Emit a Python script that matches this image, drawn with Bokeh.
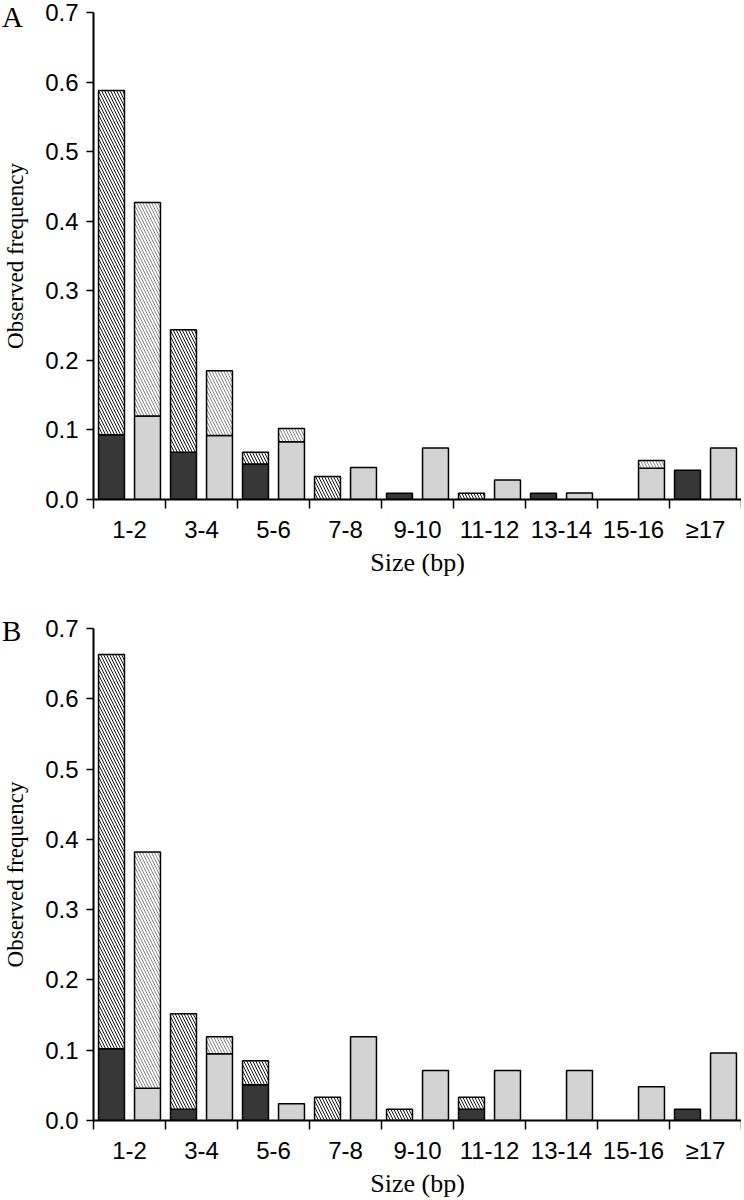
from bokeh.plotting import figure
from bokeh.layouts import column
from bokeh.models import Range1d, FixedTicker, PrintfTickFormatter, ColumnDataSource, Div
from bokeh.embed import file_html
from bokeh.resources import INLINE

categories = ["1-2", "3-4", "5-6", "7-8", "9-10", "11-12", "13-14", "15-16", "\u226517"]
y_ticks = [0.0, 0.1, 0.2, 0.3, 0.4, 0.5, 0.6, 0.7]

# Panel A: left bar = solid dark part + hatched part (top), right bar = light grey part + hatched part
A_dark = [0.093, 0.068, 0.051, 0.0, 0.009, 0.0, 0.009, 0.0, 0.042]
A_left_total = [0.588, 0.244, 0.068, 0.033, 0.009, 0.009, 0.009, 0.0, 0.042]
A_grey = [0.120, 0.092, 0.083, 0.046, 0.074, 0.028, 0.0095, 0.045, 0.074]
A_right_total = [0.427, 0.185, 0.102, 0.046, 0.074, 0.028, 0.0095, 0.056, 0.074]

# Panel B
B_dark = [0.102, 0.016, 0.051, 0.0, 0.0, 0.016, 0.0, 0.0, 0.016]
B_left_total = [0.663, 0.152, 0.085, 0.033, 0.016, 0.033, 0.0, 0.0, 0.016]
B_grey = [0.046, 0.095, 0.024, 0.119, 0.071, 0.071, 0.071, 0.048, 0.096]
B_right_total = [0.382, 0.119, 0.024, 0.119, 0.071, 0.071, 0.071, 0.048, 0.096]

DARK = "#373737"
GREY = "#d3d3d3"
SANS = "Liberation Sans"
SERIF = "Liberation Serif"
FRAME_W = 648
LEFT = 90


def panel(dark, left_total, grey, right_total, frame_h, top_border, bottom_border):
    n = len(categories)
    centers = list(range(1, n + 1))
    p = figure(frame_width=FRAME_W, frame_height=frame_h,
               x_range=Range1d(0.5, n + 0.5), y_range=Range1d(0, 0.7),
               output_backend="svg", toolbar_location=None,
               min_border_left=LEFT, min_border_right=0, min_border_top=top_border,
               min_border_bottom=bottom_border)
    p.outline_line_color = None
    p.xgrid.visible = False
    p.ygrid.visible = False
    p.background_fill_color = "white"

    lx = [c - 0.25 for c in centers]
    rx = [c + 0.25 for c in centers]
    w = 0.36

    # solid parts
    src_dark = ColumnDataSource(dict(x=[x for x, d in zip(lx, dark) if d > 0],
                                     top=[d for d in dark if d > 0]))
    p.vbar(x="x", top="top", bottom=0, width=w, source=src_dark,
           fill_color=DARK, line_color="black", line_width=1.5)
    src_grey = ColumnDataSource(dict(x=[x for x, g in zip(rx, grey) if g > 0],
                                     top=[g for g in grey if g > 0]))
    p.vbar(x="x", top="top", bottom=0, width=w, source=src_grey,
           fill_color=GREY, line_color="black", line_width=1.5)

    # hatched parts
    lh = [(x, b, t) for x, b, t in zip(lx, dark, left_total) if t > b]
    src_lh = ColumnDataSource(dict(x=[a[0] for a in lh], bottom=[a[1] for a in lh],
                                   top=[a[2] for a in lh]))
    p.vbar(x="x", top="top", bottom="bottom", width=w, source=src_lh,
           fill_color="white", line_color="black", line_width=1.5,
           hatch_pattern="left_diagonal_line", hatch_color="#111111",
           hatch_scale=6, hatch_weight=1.0)
    rh = [(x, b, t) for x, b, t in zip(rx, grey, right_total) if t > b]
    src_rh = ColumnDataSource(dict(x=[a[0] for a in rh], bottom=[a[1] for a in rh],
                                   top=[a[2] for a in rh]))
    p.vbar(x="x", top="top", bottom="bottom", width=w, source=src_rh,
           fill_color="white", line_color="black", line_width=1.5,
           hatch_pattern="left_diagonal_line", hatch_color="#777777",
           hatch_scale=6, hatch_weight=0.9)

    # x axis
    xa = p.xaxis[0]
    xa.ticker = FixedTicker(ticks=centers, minor_ticks=[c - 0.5 for c in centers] + [n + 0.5])
    xa.major_label_overrides = {c: lab for c, lab in zip(centers, categories)}
    xa.major_tick_line_color = None
    xa.major_tick_out = 0
    xa.major_tick_in = 0
    xa.minor_tick_line_color = "black"
    xa.minor_tick_line_width = 1.5
    xa.minor_tick_out = 9
    xa.minor_tick_in = 0
    xa.axis_line_width = 2
    xa.axis_line_color = "black"
    xa.major_label_standoff = 7
    xa.major_label_text_font = SANS
    xa.major_label_text_font_size = "24px"
    xa.major_label_text_color = "black"
    xa.axis_label = "Size (bp)"
    xa.axis_label_text_font = SERIF
    xa.axis_label_text_font_style = "normal"
    xa.axis_label_text_font_size = "26px"
    xa.axis_label_text_color = "black"
    xa.axis_label_standoff = 2

    # y axis
    ya = p.yaxis[0]
    ya.ticker = FixedTicker(ticks=y_ticks, minor_ticks=[])
    ya.formatter = PrintfTickFormatter(format="%.1f")
    ya.major_tick_out = 7
    ya.major_tick_in = 0
    ya.major_tick_line_width = 1.5
    ya.axis_line_width = 2
    ya.major_label_standoff = 8
    ya.major_label_text_font = SANS
    ya.major_label_text_font_size = "24px"
    ya.major_label_text_color = "black"
    ya.axis_label = "Observed frequency"
    ya.axis_label_text_font = SERIF
    ya.axis_label_text_font_style = "normal"
    ya.axis_label_text_font_size = "23px"
    ya.axis_label_text_color = "black"
    ya.axis_label_standoff = 14
    return p


def letter_div(letter, top):
    return Div(text=letter, styles={"position": "absolute", "left": "-3px", "top": f"{top}px",
                                    "font-family": SERIF, "font-size": "29px",
                                    "line-height": "29px", "color": "black", "z-index": "10"})


pA = panel(A_dark, A_left_total, A_grey, A_right_total, 487, 12, 115)
pB = panel(B_dark, B_left_total, B_grey, B_right_total, 492, 14, 70)

layout = column(pA, pB, letter_div("A", -2), letter_div("B", 612), spacing=0,
                styles={"position": "relative"})
open("out.html", "w").write(file_html(layout, INLINE))
